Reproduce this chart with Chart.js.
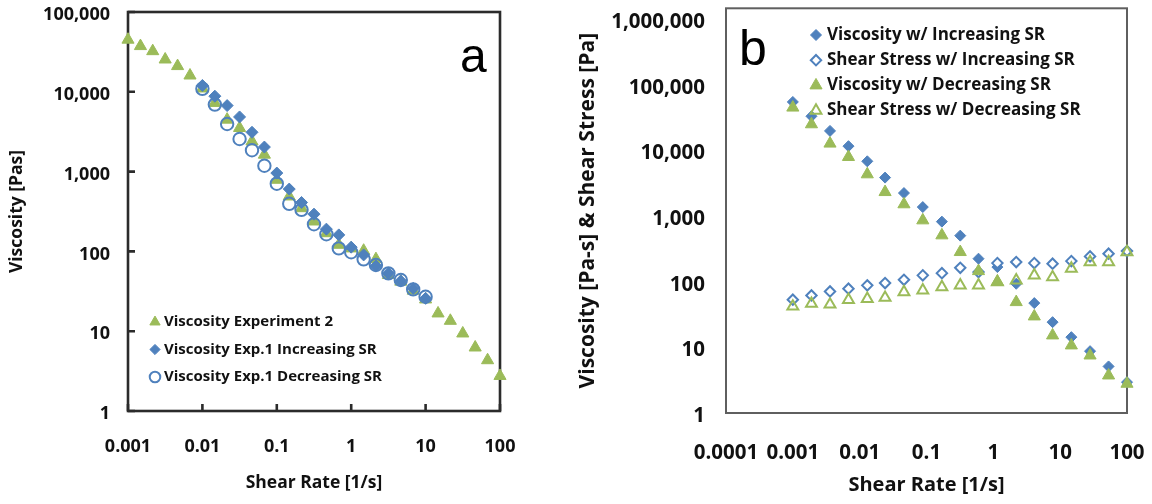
<!DOCTYPE html>
<html>
<head>
<meta charset="utf-8">
<script src="https://cdn.jsdelivr.net/npm/chart.js@4/dist/chart.umd.min.js"></script>
<style>
  html, body { margin: 0; padding: 0; background: #fff; }
  #wrap { position: relative; width: 1152px; height: 504px; overflow: hidden; }
  #chartA { position: absolute; left: 0; top: 0; }
  #chartB { position: absolute; left: 560px; top: 0; }
</style>
</head>
<body>
<div id="wrap">
  <canvas id="chartA" width="540" height="504"></canvas>
  <canvas id="chartB" width="592" height="504"></canvas>
</div>
<script>
// ---- Panel a data ----
const rateA = [0.001, 0.00147, 0.00215, 0.00316, 0.00464, 0.00681, 0.01, 0.0147, 0.0215, 0.0316,
  0.0464, 0.0681, 0.1, 0.147, 0.215, 0.316, 0.464, 0.681, 1, 1.47, 2.15, 3.16, 4.64, 6.81, 10,
  14.7, 21.5, 31.6, 46.4, 68.1, 100];
const viscExp2 = [45000, 37400, 32300, 25400, 21000, 16000, 11000, 7260, 4480, 3520,
  2390, 1630, 790, 488, 348, 237, 169, 121, 109, 102, 80, 50.6, 41.8, 32.2, 25,
  16.7, 13.5, 9.37, 6.25, 4.33, 2.75];
const rateExp1 = [0.01, 0.0147, 0.0215, 0.0316, 0.0464, 0.0681, 0.1, 0.147, 0.215, 0.316,
  0.464, 0.681, 1, 1.47, 2.15, 3.16, 4.64, 6.81, 10];
const viscExp1Inc = [12000, 8810, 6720, 4840, 3110, 2030, 959, 604, 410, 293,
  190, 161, 113, 90.3, 65.6, 53.1, 42.6, 34.4, 25.8];
const viscExp1Dec = [10900, 6920, 3950, 2560, 1850, 1185, 705, 395, 332, 219,
  164, 109, 97.5, 79.6, 67.6, 53.1, 43.8, 33.4, 27.0];

// ---- Panel b data ----
const rateB = [0.001, 0.0019, 0.0036, 0.0068, 0.013, 0.024, 0.046, 0.088, 0.17, 0.32,
  0.6, 1.15, 2.2, 4.1, 7.7, 14.7, 28, 53, 100];
const viscInc = [54700, 33100, 19800, 11600, 6820, 3850, 2240, 1370, 822, 503,
  224, 167, 93, 47.2, 24.2, 14.3, 8.75, 5.12, 2.95];
const stressInc = [53.2, 61.8, 71.1, 78.2, 87.9, 95.3, 107, 125, 135, 163,
  140, 192, 199, 192, 188, 206, 243, 267, 293];
const viscDec = [44900, 25000, 12700, 7940, 4320, 2320, 1510, 860, 508, 283,
  145, 100, 48.9, 29.6, 15.2, 10.7, 7.52, 3.73, 2.79];
const stressDec = [42, 46.2, 45, 53, 55, 57, 69.5, 73.7, 82.7, 87.9,
  87.9, 98.6, 105, 125, 117, 158, 199, 199, 283];

// ---- tick labels ----
const xTicksA = [0.001, 0.01, 0.1, 1, 10, 100];
const yTicksA = [1, 10, 100, 1000, 10000, 100000];
const xTicksB = [0.0001, 0.001, 0.01, 0.1, 1, 10, 100];
const yTicksB = [1, 10, 100, 1000, 10000, 100000, 1000000];

const BLUE = '#4F81BD';
const GREEN = '#9BBB59';
const INK = '#111';
const FONT = '"Open Sans", "DejaVu Sans", sans-serif';

Chart.defaults.font.family = FONT;
Chart.defaults.font.weight = 'bold';
Chart.defaults.color = INK;

function pts(xs, ys) {
  return xs.map((x, i) => ({ x: x, y: ys[i] }));
}

function fmt(v) {
  return v >= 1 ? Number(v).toLocaleString('en-US') : String(v);
}

// log axis with fixed power-of-ten ticks and a fixed box size
function logAxis(o) {
  return {
    type: 'logarithmic',
    min: o.min,
    max: o.max,
    afterBuildTicks: s => { s.ticks = o.ticks.map(v => ({ value: v })); },
    afterFit: s => {
      if (o.width) s.width = o.width;
      if (o.height) s.height = o.height;
      // keep the plot box where we put it
      s.paddingTop = s.paddingBottom = s.paddingLeft = s.paddingRight = 0;
    },
    grid: { display: false, drawTicks: false },
    border: { display: false },
    ticks: {
      autoSkip: false, maxRotation: 0, padding: o.pad, labelOffset: o.labelOffset || 0,
      font: { size: o.tickSize, weight: 'bold' }, color: INK,
      callback: v => fmt(v)
    },
    title: {
      display: true, text: o.title, color: INK,
      font: { size: o.titleSize, weight: 'bold' },
      padding: o.titlePad
    }
  };
}

// frame, inside tick marks, legend and panel letter
function decor(o) {
  return {
    id: 'decor',
    beforeDatasetsDraw(chart) {
      const ctx = chart.ctx, a = chart.chartArea;
      ctx.save();
      ctx.strokeStyle = o.frameColor;
      ctx.lineWidth = o.frameWidth;
      ctx.strokeRect(a.left, a.top, a.right - a.left, a.bottom - a.top);
      if (o.innerTicks) {
        const xs = chart.scales.x, ys = chart.scales.y;
        ctx.beginPath();
        xs.ticks.forEach(t => {
          const px = xs.getPixelForValue(t.value);
          ctx.moveTo(px, a.bottom);
          ctx.lineTo(px, a.bottom - o.innerTicks);
        });
        ys.ticks.forEach(t => {
          const py = ys.getPixelForValue(t.value);
          ctx.moveTo(a.left, py);
          ctx.lineTo(a.left + o.innerTicks, py);
        });
        ctx.stroke();
      }
      ctx.restore();
    },
    afterDraw(chart) {
      const ctx = chart.ctx, L = o.legend;
      ctx.save();
      chart.data.datasets.forEach((ds, row) => {
        const y = L.y + row * L.step;
        ctx.fillStyle = ds.backgroundColor;
        ctx.strokeStyle = ds.borderColor;
        ctx.lineWidth = ds.borderWidth;
        Chart.helpers.drawPoint(ctx, {
          pointStyle: ds.pointStyle, rotation: 0,
          radius: ds.pointRadius * L.scale, borderWidth: ds.borderWidth
        }, L.x, y);
        ctx.fillStyle = INK;
        ctx.font = 'bold ' + L.size + 'px ' + FONT;
        ctx.textBaseline = 'middle';
        ctx.textAlign = 'left';
        ctx.fillText(ds.label, L.textX, y);
      });
      ctx.fillStyle = '#000';
      ctx.font = o.letterSize + 'px "Liberation Sans", Arial, sans-serif';
      ctx.textBaseline = 'alphabetic';
      ctx.fillText(o.letter, o.letterX, o.letterY);
      ctx.restore();
    }
  };
}

const baseOpts = {
  responsive: false,
  animation: false,
  events: [],
  plugins: { legend: { display: false }, tooltip: { enabled: false } }
};

// ---- Panel a ----
new Chart('chartA', {
  type: 'scatter',
  data: {
    datasets: [
      { label: 'Viscosity Experiment 2', data: pts(rateA, viscExp2), order: 2,
        pointStyle: 'triangle', pointRadius: 7, backgroundColor: GREEN, borderColor: GREEN, borderWidth: 1, clip: false },
      { label: 'Viscosity Exp.1 Increasing SR', data: pts(rateExp1, viscExp1Inc), order: 0,
        pointStyle: 'rectRot', pointRadius: 6, backgroundColor: BLUE, borderColor: BLUE, borderWidth: 1, clip: false },
      { label: 'Viscosity Exp.1 Decreasing SR', data: pts(rateExp1, viscExp1Dec), order: 1,
        pointStyle: 'circle', pointRadius: 6.2, backgroundColor: 'rgba(0,0,0,0)', borderColor: BLUE, borderWidth: 2, clip: false }
    ]
  },
  options: Object.assign({}, baseOpts, {
    layout: { padding: { top: 12, right: 40, left: 0, bottom: 0 } },
    scales: {
      x: logAxis({ min: 0.001, max: 100, ticks: xTicksA, height: 93, pad: 25, tickSize: 18,
        title: 'Shear Rate [1/s]', titleSize: 17.5, titlePad: { top: 0, bottom: 10 } }),
      y: logAxis({ min: 1, max: 100000, ticks: yTicksA, width: 128, pad: 18, labelOffset: 3, tickSize: 18,
        title: 'Viscosity [Pas]', titleSize: 17.5, titlePad: { top: 7, bottom: 0 } })
    }
  }),
  plugins: [decor({
    frameColor: '#2b2b2b', frameWidth: 2.6, innerTicks: 7,
    legend: { x: 155, textX: 164, y: 322, step: 27.5, size: 15, scale: 0.85 },
    letter: 'a', letterSize: 48, letterX: 460, letterY: 72
  })]
});

// ---- Panel b ----
new Chart('chartB', {
  type: 'scatter',
  data: {
    datasets: [
      { label: 'Viscosity w/ Increasing SR', data: pts(rateB, viscInc), order: 3,
        pointStyle: 'rectRot', pointRadius: 5.5, backgroundColor: BLUE, borderColor: BLUE, borderWidth: 1, clip: false },
      { label: 'Shear Stress w/ Increasing SR', data: pts(rateB, stressInc), order: 2,
        pointStyle: 'rectRot', pointRadius: 5.2, backgroundColor: '#fff', borderColor: BLUE, borderWidth: 2, clip: false },
      { label: 'Viscosity w/ Decreasing SR', data: pts(rateB, viscDec), order: 1,
        pointStyle: 'triangle', pointRadius: 7, backgroundColor: GREEN, borderColor: GREEN, borderWidth: 1, clip: false },
      { label: 'Shear Stress w/ Decreasing SR', data: pts(rateB, stressDec), order: 0,
        pointStyle: 'triangle', pointRadius: 6.3, backgroundColor: 'rgba(0,0,0,0)', borderColor: GREEN, borderWidth: 2, clip: false }
    ]
  },
  options: Object.assign({}, baseOpts, {
    layout: { padding: { top: 7, right: 25, left: 0, bottom: 0 } },
    scales: {
      x: logAxis({ min: 0.0001, max: 100, ticks: xTicksB, height: 91, pad: 28, tickSize: 20.5,
        title: 'Shear Rate [1/s]', titleSize: 20, titlePad: { top: 0, bottom: 7 } }),
      y: logAxis({ min: 1, max: 1460000, ticks: yTicksB, width: 166, pad: 21, labelOffset: 3, tickSize: 20.5,
        title: 'Viscosity [Pa-s] & Shear Stress [Pa]', titleSize: 21, titlePad: { top: 15, bottom: 0 } })
    }
  }),
  plugins: [decor({
    frameColor: '#5f5f5f', frameWidth: 2, innerTicks: 0,
    legend: { x: 256, textX: 267, y: 35, step: 25.2, size: 17, scale: 1 },
    letter: 'b', letterSize: 50, letterX: 179, letterY: 65
  })]
});
</script>
</body>
</html>
